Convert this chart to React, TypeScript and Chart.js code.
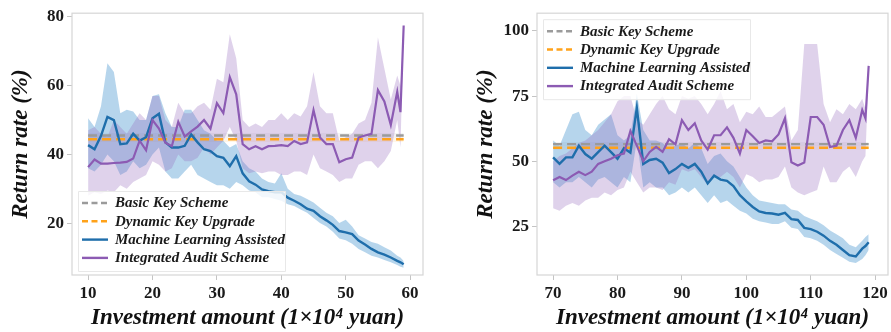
import React, { useEffect, useRef } from 'react';
import { Chart, registerables } from 'chart.js';
Chart.register(...registerables);

// ---------- shared labels ----------
const SERIES_LABELS = ['Basic Key Scheme', 'Dynamic Key Upgrade', 'Machine Learning Assisted', 'Integrated Audit Scheme'];
const X_TITLE = 'Investment amount (1×10⁴ yuan)';
const Y_TITLE = 'Return rate (%)';

// ---------- left panel data ----------
const leftX = [10, 11, 12, 13, 14, 15, 16, 17, 18, 19, 20, 21, 22, 23, 24, 25, 26, 27, 28, 29, 30, 31, 32, 33, 34, 35, 36, 37, 38, 39, 40, 41, 42, 43, 44, 45, 46, 47, 48, 49, 50, 51, 52, 53, 54, 55, 56, 57, 58, 58.5, 59];
const leftBasic = 45.5;
const leftDynamic = 44.4;
const leftBasicBand = [44.9, 46.2];
const leftDynamicBand = [43.6, 45.0];
const leftML = [42.7, 41.5, 45.4, 50.9, 50, 43, 43.2, 46, 44, 45, 50.5, 51.8, 43.5, 42, 42, 42.5, 45.8, 43.5, 41.5, 41, 39.5, 39, 36.6, 39.5, 34.5, 32.2, 31.2, 29.8, 29.3, 29, 29, 27.4, 26.5, 25.5, 24.2, 23.6, 22, 20.8, 19.5, 17.7, 17.3, 16.8, 14.9, 13.8, 12.5, 11.5, 10.8, 10, 9, 8.6, 8];
const leftMLHi = [50.5, 48, 54, 66.5, 64, 52, 53, 52.5, 50, 50, 57, 57.5, 52, 48, 48, 53, 53, 50, 47, 46, 44, 44, 42, 43, 38, 36, 35, 33, 32, 31.5, 34.5, 30, 28.5, 28, 27, 26, 24.5, 23, 22, 20, 21, 19, 16.5, 15.5, 14.5, 14, 13, 12, 10.5, 10, 9];
const leftMLLo = [36, 35, 37, 40, 38, 34, 35, 38, 36, 37, 40, 42, 35, 33, 33, 35, 37, 34, 33, 32, 31, 31, 30, 32, 31, 29.5, 29, 27.5, 27.5, 27, 26.5, 25.5, 25, 24, 23, 21.5, 20, 19, 17.5, 15.5, 15, 14, 12.5, 11.5, 10.5, 10, 9.3, 8.6, 7.8, 7.3, 7];
const leftIAS = [36.3, 38.5, 37.3, 37.3, 37.5, 37.6, 37.8, 38.8, 44, 41.2, 50, 47.5, 43.4, 42.4, 49.5, 45.2, 46.7, 48.1, 50, 47.5, 54.9, 52, 62.5, 57.5, 43, 41.5, 42.4, 41.5, 42.4, 42.5, 42.7, 42.4, 43.9, 43, 43.5, 52.9, 44.9, 43, 43, 37.7, 38.6, 39.1, 44.9, 45.5, 46, 58.7, 55.4, 48.6, 58.2, 52.3, 77.5];
const leftIASHi = [47, 48, 46, 45, 50, 48, 46, 49, 52, 50, 57, 57, 50, 48, 55, 52, 52, 54, 55, 53, 62, 61, 75, 68, 50, 48, 49, 48, 50, 50, 52, 50, 52, 51, 54, 64, 54, 52, 52, 44, 45, 46, 49, 50, 55, 74, 65, 56, 63, 60, 77.5];
const leftIASLo = [28, 29, 28.5, 29.5, 29, 31, 30, 32, 33, 34, 38, 37, 35, 36, 40, 38, 38, 39, 42, 40, 42, 44, 48, 44, 36, 34.5, 35, 34.5, 35, 35, 34, 34, 35, 35, 34, 40, 36, 35, 34, 32, 33, 33, 37, 38, 38, 36, 38, 41, 50, 42, 77];
const leftXTicks = [10, 20, 30, 40, 50, 60];
const leftYTicks = [20, 40, 60, 80];

// ---------- right panel data ----------
const rightX = [70, 71, 72, 73, 74, 75, 76, 77, 78, 79, 80, 81, 82, 83, 84, 85, 86, 87, 88, 89, 90, 91, 92, 93, 94, 95, 96, 97, 98, 99, 100, 101, 102, 103, 104, 105, 106, 107, 108, 109, 110, 111, 112, 113, 114, 115, 116, 117, 118, 118.5, 119];
const rightBasic = 56.6;
const rightDynamic = 55.2;
const rightBasicBand = [55.9, 57.4];
const rightDynamicBand = [54.4, 56.0];
const rightML = [51.5, 49, 51.5, 51.5, 56, 52.8, 51, 53.5, 56, 53.5, 51, 55, 53.3, 70.5, 49, 50.5, 51, 49.5, 45.5, 47, 49, 47.5, 49, 46, 41.5, 44.5, 43, 42.5, 40.5, 37, 34.6, 32.5, 30.8, 30.2, 30, 29.5, 30.2, 27.8, 27.5, 24.5, 24, 23, 21.5, 19.5, 18, 16, 14, 13.5, 16.5, 17.5, 19];
const rightMLHi = [58, 56, 62, 68, 69, 62, 60, 64, 66, 68, 60, 58, 60, 76, 62, 58, 58, 57, 55, 56, 57, 55, 57, 55, 49, 52, 53, 50, 48, 44, 40, 37, 35, 34.5, 34, 33.5, 33.5, 31.5, 31, 29, 28, 27, 25.5, 23.5, 22, 20.5, 18, 17, 19.5, 21, 22];
const rightMLLo = [42, 40, 42, 42, 44, 42, 40, 43, 44, 42, 40, 44, 42, 58, 40, 42, 40, 40, 37, 38, 40, 38, 40, 37, 34, 37, 34, 35, 33, 31, 30, 28, 27, 26.5, 26, 26, 27, 24.5, 24, 21, 20.5, 19.5, 18, 16, 14.5, 13, 11.5, 11, 12.5, 14, 16];
const rightIAS = [42.7, 44, 42.8, 44.5, 46, 44.7, 46, 49, 50, 51, 52.3, 53, 61.6, 56, 50, 53.6, 55.5, 53.6, 58.5, 56.5, 65.8, 62, 64.6, 58, 54.5, 60, 60, 63, 59, 53, 62, 59.6, 57, 58, 57.7, 60.3, 66.5, 49.6, 48.4, 49.5, 67, 67, 64, 55.5, 56, 62, 65.8, 59, 69.7, 66.5, 86.6];
const rightIASHi = [50, 52, 53, 55, 57, 58, 60, 62, 65, 68, 73, 75, 75, 66, 64, 68, 72, 75, 70, 68, 75, 74, 75, 72, 68, 72, 77, 70, 72, 65, 69, 68, 71, 67, 67, 69, 71, 58, 62, 95, 95, 95, 72, 65, 70, 68, 72, 70, 74, 70, 88];
const rightIASLo = [32, 31, 33, 34, 33, 35, 36, 36, 38, 37, 39, 40, 46, 42, 38, 40, 40, 39, 42, 41, 47, 46, 47, 44, 41, 44, 44, 46, 44, 40, 45, 44, 42, 43, 43, 44, 48, 40, 38, 37, 38, 39, 48, 42, 42, 46, 48, 44, 50, 52, 85];
const rightXTicks = [70, 80, 90, 100, 110, 120];
const rightYTicks = [25, 50, 75, 100];

// ---------- styles ----------
const C_BASIC = '#9b9b9b';
const C_DYN = '#ffa21a';
const C_ML = '#1f6eab';
const C_IAS = '#8c5bb3';
const F_ML = 'rgba(80,155,210,0.42)';
const F_IAS = 'rgba(150,105,190,0.30)';
const F_BASIC = 'rgba(150,150,150,0.10)';
const F_DYN = 'rgba(255,170,30,0.10)';
const SERIF = '"Liberation Serif", "Times New Roman", serif';

type PanelProps = {
  left: number; width: number;
  xs: number[]; basic: number; dynamic: number; basicBand: number[]; dynamicBand: number[];
  ml: number[]; mlHi: number[]; mlLo: number[]; ias: number[]; iasHi: number[]; iasLo: number[];
  xMin: number; xMax: number; yMin: number; yMax: number; xTicks: number[]; yTicks: number[];
  yAxisW: number; padRight: number; legendTop: boolean; yTitlePad: number;
};

const framePlugin = {
  id: 'frameBox',
  beforeDatasetsDraw(chart: any) {
    const { ctx, chartArea } = chart;
    const { left, top, right, bottom } = chartArea;
    ctx.save();
    ctx.strokeStyle = '#d6d6d6';
    ctx.lineWidth = 1.2;
    ctx.strokeRect(left, top, right - left, bottom - top);
    ctx.restore();
  },
};

const legendPlugin = {
  id: 'insideLegend',
  afterDraw(chart: any) {
    const opts = chart.options.plugins.insideLegend;
    if (!opts) return;
    const { ctx, chartArea } = chart;
    const boxW = 207, boxH = 80;
    const x0 = chartArea.left + 6;
    const y0 = opts.top ? chartArea.top + 6 : chartArea.bottom - 4 - boxH;
    ctx.save();
    ctx.fillStyle = 'rgba(255,255,255,0.82)';
    ctx.strokeStyle = '#e8e8e8';
    ctx.lineWidth = 1;
    ctx.beginPath();
    ctx.rect(x0 + 0.5, y0 + 0.5, boxW, boxH);
    ctx.fill();
    ctx.stroke();
    const items = opts.items as { label: string; color: string; dash: number[] }[];
    items.forEach((it, i) => {
      const cy = y0 + 12 + i * 18.3;
      ctx.beginPath();
      ctx.setLineDash(it.dash);
      ctx.strokeStyle = it.color;
      ctx.lineWidth = 2.4;
      ctx.moveTo(x0 + 4, cy);
      ctx.lineTo(x0 + 30, cy);
      ctx.stroke();
      ctx.setLineDash([]);
      ctx.fillStyle = '#1a1a1a';
      ctx.font = `italic bold 15px ${SERIF}`;
      ctx.textBaseline = 'middle';
      ctx.textAlign = 'left';
      ctx.fillText(it.label, x0 + 37, cy + 0.5);
    });
    ctx.restore();
  },
};

function Panel(p: PanelProps) {
  const ref = useRef<HTMLCanvasElement | null>(null);
  useEffect(() => {
    if (!ref.current) return;
    const pts = (arr: number[]) => p.xs.map((x, i) => ({ x, y: arr[i] }));
    const flat = (v: number) => [{ x: p.xs[0], y: v }, { x: p.xs[p.xs.length - 1], y: v }];
    const lineBase = { pointRadius: 0, tension: 0, fill: false };
    const bandBase = { pointRadius: 0, tension: 0, borderWidth: 0, borderColor: 'transparent' };
    const chart = new Chart(ref.current, {
      type: 'line',
      data: {
        datasets: [
          { ...lineBase, label: SERIES_LABELS[3], data: pts(p.ias), borderColor: C_IAS, borderWidth: 2.2, order: 0 },
          { ...lineBase, label: SERIES_LABELS[2], data: pts(p.ml), borderColor: C_ML, borderWidth: 2.4, order: 1 },
          { ...lineBase, label: SERIES_LABELS[1], data: flat(p.dynamic), borderColor: C_DYN, borderWidth: 2.6, borderDash: [9, 5], order: 2 },
          { ...lineBase, label: SERIES_LABELS[0], data: flat(p.basic), borderColor: C_BASIC, borderWidth: 2.4, borderDash: [9, 5], order: 3 },
          { ...bandBase, label: 'iasHi', data: pts(p.iasHi), fill: '+1', backgroundColor: F_IAS, order: 4 },
          { ...bandBase, label: 'iasLo', data: pts(p.iasLo), fill: false, order: 5 },
          { ...bandBase, label: 'mlHi', data: pts(p.mlHi), fill: '+1', backgroundColor: F_ML, order: 6 },
          { ...bandBase, label: 'mlLo', data: pts(p.mlLo), fill: false, order: 7 },
          { ...bandBase, label: 'dynHi', data: flat(p.dynamicBand[1]), fill: '+1', backgroundColor: F_DYN, order: 8 },
          { ...bandBase, label: 'dynLo', data: flat(p.dynamicBand[0]), fill: false, order: 9 },
          { ...bandBase, label: 'basHi', data: flat(p.basicBand[1]), fill: '+1', backgroundColor: F_BASIC, order: 10 },
          { ...bandBase, label: 'basLo', data: flat(p.basicBand[0]), fill: false, order: 11 },
        ] as any,
      },
      options: {
        responsive: false,
        animation: false,
        devicePixelRatio: 1,
        layout: { padding: { top: 8, right: p.padRight, left: 0, bottom: 0 } },
        plugins: {
          legend: { display: false },
          tooltip: { enabled: false },
          insideLegend: {
            top: p.legendTop,
            items: [
              { label: SERIES_LABELS[0], color: C_BASIC, dash: [6, 3.5] },
              { label: SERIES_LABELS[1], color: C_DYN, dash: [6, 3.5] },
              { label: SERIES_LABELS[2], color: C_ML, dash: [] },
              { label: SERIES_LABELS[3], color: C_IAS, dash: [] },
            ],
          },
        } as any,
        scales: {
          x: {
            type: 'linear',
            min: p.xMin,
            max: p.xMax,
            afterBuildTicks: (s: any) => { s.ticks = p.xTicks.map((v) => ({ value: v })); },
            afterFit: (s: any) => { s.height = 57; },
            grid: { display: true, drawOnChartArea: false, drawTicks: true, tickLength: 5, color: '#c4c4c4' },
            border: { display: false },
            ticks: { font: { family: SERIF, size: 17, weight: 'bold' }, color: '#1a1a1a', padding: 3, maxRotation: 0 },
            title: { display: true, text: X_TITLE, font: { family: SERIF, size: 23, weight: 'bold', style: 'italic' }, color: '#111', padding: { top: 0, bottom: 0 } },
          },
          y: {
            type: 'linear',
            min: p.yMin,
            max: p.yMax,
            afterBuildTicks: (s: any) => { s.ticks = p.yTicks.map((v) => ({ value: v })); },
            afterFit: (s: any) => { s.width = p.yAxisW; },
            grid: { display: true, drawOnChartArea: false, drawTicks: true, tickLength: 5, color: '#c4c4c4' },
            border: { display: false },
            ticks: { font: { family: SERIF, size: 17, weight: 'bold' }, color: '#1a1a1a', padding: 3 },
            title: { display: true, text: Y_TITLE, font: { family: SERIF, size: 23, weight: 'bold', style: 'italic' }, color: '#111', padding: { top: p.yTitlePad, bottom: 0 } },
          },
        },
      } as any,
      plugins: [framePlugin, legendPlugin],
    });
    return () => chart.destroy();
  }, []);
  return (
    <canvas
      ref={ref}
      width={p.width}
      height={332}
      style={{ position: 'absolute', left: p.left, top: 0, width: p.width, height: 332 }}
    />
  );
}

export default function App() {
  return (
    <div style={{ position: 'fixed', left: 0, top: 0, width: 891, height: 332, background: '#fff', overflow: 'hidden' }}>
      <Panel
        left={0} width={445}
        xs={leftX} basic={leftBasic} dynamic={leftDynamic} basicBand={leftBasicBand} dynamicBand={leftDynamicBand}
        ml={leftML} mlHi={leftMLHi} mlLo={leftMLLo} ias={leftIAS} iasHi={leftIASHi} iasLo={leftIASLo}
        xMin={7.5} xMax={62} yMin={4.9} yMax={81.1} xTicks={leftXTicks} yTicks={leftYTicks}
        yAxisW={72} padRight={22} legendTop={false} yTitlePad={7}
      />
      <Panel
        left={445} width={446}
        xs={rightX} basic={rightBasic} dynamic={rightDynamic} basicBand={rightBasicBand} dynamicBand={rightDynamicBand}
        ml={rightML} mlHi={rightMLHi} mlLo={rightMLLo} ias={rightIAS} iasHi={rightIASHi} iasLo={rightIASLo}
        xMin={67.5} xMax={122} yMin={6.4} yMax={106.8} xTicks={rightXTicks} yTicks={rightYTicks}
        yAxisW={92} padRight={3} legendTop={true} yTitlePad={27}
      />
    </div>
  );
}
